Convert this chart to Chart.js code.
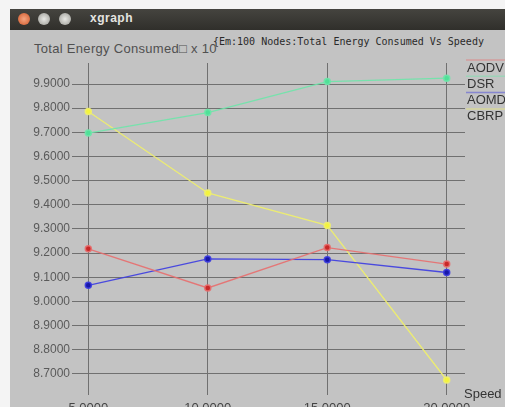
<!DOCTYPE html>
<html>
<head>
<meta charset="utf-8">
<script src="https://cdn.jsdelivr.net/npm/chart.js@4"></script>
<style>
  body { margin: 0; background: #f4f4f4; width: 505px; height: 407px; overflow: hidden; position: relative; font-family: "Liberation Sans", Arial, sans-serif; }
  #win { position: absolute; left: 10px; top: 9px; right: 0; bottom: 0; background: #c3c3c3; }
  #bar { position: absolute; left: 10px; top: 9px; right: 0; height: 21px; background: linear-gradient(#45443f, #302f2b); }
  .btn { position: absolute; top: 4px; width: 12px; height: 12px; border-radius: 50%; background: radial-gradient(#e8e8e4, #9a9a94); }
  #bar .close { background: radial-gradient(#f5a580, #d0582a); }
  #bar .name { position: absolute; left: 80px; top: 2px; color: #e4e4e0; font-weight: bold; font-size: 12px; letter-spacing: 0.5px; }
  #ylab { position: absolute; left: 34px; top: 41px; font-size: 13px; color: #505050; letter-spacing: 0.3px; }
  #ttl { position: absolute; left: 213px; top: 36px; font-family: "DejaVu Sans Mono", monospace; font-size: 10px; color: #2a2a2a; }
  #speed { position: absolute; left: 464px; top: 386px; font-size: 13px; color: #333; }
  canvas { position: absolute; left: 0; top: 0; }
</style>
</head>
<body>
<div id="win"></div>
<div id="bar">
  <div class="btn close" style="left:8px"></div>
  <div class="btn" style="left:28px"></div>
  <div class="btn" style="left:49px"></div>
  <div class="name">xgraph</div>
</div>
<div id="ylab">Total Energy Consumed□ x 10</div>
<div id="ttl">{Em:100 Nodes:Total Energy Consumed Vs Speedy</div>
<canvas id="c" width="505" height="407"></canvas>
<div id="speed">Speed</div>
<script>
const speeds = [5, 10, 15, 20];
const aodv = [9.218, 9.056, 9.223, 9.155];
const dsr = [9.697, 9.782, 9.910, 9.924];
const aomdv = [9.067, 9.176, 9.173, 9.120];
const cbrp = [9.786, 9.449, 9.315, 8.675];
const yTicks = [8.7, 8.8, 8.9, 9.0, 9.1, 9.2, 9.3, 9.4, 9.5, 9.6, 9.7, 9.8, 9.9];
const xTicks = [5, 10, 15, 20];

function pts(vals) {
    return speeds.map(function (s, i) { return { x: s, y: vals[i] }; });
}

function series(label, vals, line, dot) {
    return {
        label: label,
        data: pts(vals),
        borderColor: line,
        backgroundColor: dot,
        pointBackgroundColor: dot,
        pointBorderColor: line,
        borderWidth: 1.3,
        pointRadius: 3,
        pointBorderWidth: 1.5,
        tension: 0
    };
}

// legend drawn xgraph style: faint colored line above each name, at the right edge
const sideLegend = {
    id: 'sideLegend',
    afterDraw: function (chart) {
        var ctx = chart.ctx;
        ctx.save();
        ctx.font = '13px "Liberation Sans", Arial, sans-serif';
        ctx.textBaseline = 'middle';
        chart.data.datasets.forEach(function (ds, i) {
            var y = 68 + i * 16.3;
            ctx.globalAlpha = 0.5;
            ctx.strokeStyle = ds.borderColor;
            ctx.lineWidth = 1.5;
            ctx.beginPath();
            ctx.moveTo(466, y - 8);
            ctx.lineTo(505, y - 8);
            ctx.stroke();
            ctx.globalAlpha = 1;
            ctx.fillStyle = '#333';
            ctx.fillText(ds.label, 467, y);
        });
        ctx.restore();
    }
};

var ctx = document.getElementById('c').getContext('2d');
var chart = new Chart(ctx, {
    type: 'line',
    data: {
        datasets: [
            series('AODV', aodv, 'rgba(232, 110, 110, 0.9)', '#c82828'),
            series('DSR', dsr, 'rgba(110, 230, 170, 0.9)', '#50e098'),
            series('AOMDV', aomdv, 'rgba(60, 60, 225, 0.9)', '#1818a8'),
            series('CBRP', cbrp, 'rgba(238, 238, 110, 0.95)', '#f4f43c')
        ]
    },
    options: {
        responsive: false,
        animation: false,
        layout: { padding: { left: 0, right: 40, top: 63, bottom: 0 } },
        plugins: {
            legend: { display: false },
            title: { display: false },
            tooltip: { enabled: false }
        },
        scales: {
            x: {
                type: 'linear',
                min: 4.443,
                max: 20.766,
                afterBuildTicks: function (s) { s.ticks = xTicks.map(function (v) { return { value: v }; }); },
                afterFit: function (s) { s.height = 12; },
                grid: { color: '#707070', lineWidth: 1, drawTicks: false },
                border: { display: false },
                ticks: {
                    padding: 6,
                    color: '#444',
                    font: { family: '"Liberation Sans", Arial, sans-serif', size: 13 },
                    callback: function (v) { return v.toFixed(4); }
                }
            },
            y: {
                min: 8.613,
                max: 9.987,
                afterBuildTicks: function (s) { s.ticks = yTicks.map(function (v) { return { value: v }; }); },
                afterFit: function (s) { s.width = 75; },
                grid: { color: '#707070', lineWidth: 1, drawTicks: true, tickLength: 3 },
                border: { display: false },
                ticks: {
                    padding: 2,
                    color: '#5a5a5a',
                    font: { family: '"Liberation Sans", Arial, sans-serif', size: 12 },
                    callback: function (v) { return v.toFixed(4); }
                }
            }
        }
    },
    plugins: [sideLegend]
});
</script>
</body>
</html>
